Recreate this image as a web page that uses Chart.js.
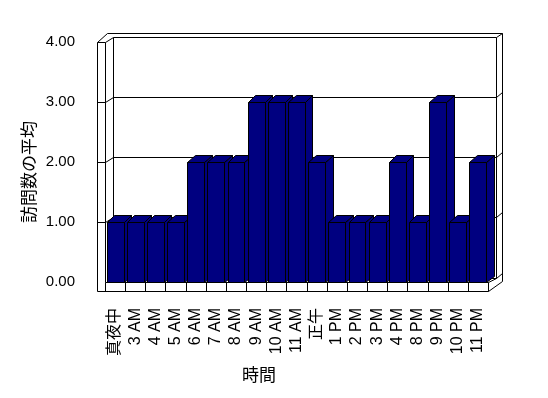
<!DOCTYPE html>
<html>
<head>
<meta charset="utf-8">
<script src="https://cdn.jsdelivr.net/npm/chart.js@4.4.0/dist/chart.umd.min.js"></script>
<style>
  html, body { margin: 0; padding: 0; background: #fff; }
  canvas { display: block; }
</style>
</head>
<body>
<canvas id="myChart" width="548" height="398"></canvas>
<script>
// ===== data =====
var hourLabels = ["真夜中", "3 AM", "4 AM", "5 AM", "6 AM", "7 AM", "8 AM", "9 AM", "10 AM", "11 AM",
  "正午", "1 PM", "2 PM", "3 PM", "4 PM", "8 PM", "9 PM", "10 PM", "11 PM"];
var avgVisits = [1, 1, 1, 1, 2, 2, 2, 3, 3, 3, 2, 1, 1, 1, 2, 1, 3, 1, 2];
var yTicks = [0, 1, 2, 3, 4];

var xTitle = "時間";
var yTitle = "訪問数の平均";

var barColor = "#000080";
var lineColor = "#000000";

// 3d look
var bdx = 7.5, bdy = -6.5;   // bar depth
var wdx = 7.5, wdy = -4.5;   // wall depth
var wallW = 8, floorH = 9;

function px(v) { return Math.round(v) + 0.5; }

function line(ctx, x1, y1, x2, y2) {
  ctx.beginPath();
  ctx.moveTo(px(x1), px(y1));
  ctx.lineTo(px(x2), px(y2));
  ctx.stroke();
}

function poly(ctx, pts, fill) {
  ctx.beginPath();
  ctx.moveTo(px(pts[0][0]), px(pts[0][1]));
  for (var i = 1; i < pts.length; i++) ctx.lineTo(px(pts[i][0]), px(pts[i][1]));
  ctx.closePath();
  if (fill) { ctx.fillStyle = fill; ctx.fill(); }
  ctx.stroke();
}

var box3d = {
  id: "box3d",
  beforeDatasetsDraw: function (chart) {
    var ctx = chart.ctx;
    var ys = chart.scales.y, xs = chart.scales.x;
    var L = chart.chartArea.left, R = chart.chartArea.right;
    var T = ys.getPixelForValue(yTicks[yTicks.length - 1]);
    var B = ys.getPixelForValue(0);
    ctx.save();
    ctx.strokeStyle = lineColor;
    ctx.lineWidth = 1;

    // outer outline
    poly(ctx, [[L - wallW, B + floorH], [L - wallW, T], [L - wallW + 10, T - 8.5],
      [R + wdx + 6, T - 8.5], [R + wdx + 6, B + wdy + 3], [R, B + floorH]], "#ffffff");
    // back wall
    poly(ctx, [[L + wdx, T + wdy], [R + wdx, T + wdy], [R + wdx, B + wdy], [L + wdx, B + wdy]]);
    // left wall
    line(ctx, L, T, L, B);
    line(ctx, L - wallW, T, L, T);
    line(ctx, L, T, L + wdx, T + wdy);
    line(ctx, R + wdx, T + wdy, R + wdx + 6, T - 8.5);
    line(ctx, R + wdx, B + wdy, R + wdx + 6, B + wdy - 5);

    // grid lines
    yTicks.forEach(function (v) {
      if (v === 0 || v === yTicks[yTicks.length - 1]) return;
      var y = ys.getPixelForValue(v);
      line(ctx, L - wallW, y, L, y);
      line(ctx, L, y, L + wdx, y + wdy);
      line(ctx, L + wdx, y + wdy, R + wdx, y + wdy);
      line(ctx, R + wdx, y + wdy, R + wdx + 6, y + wdy - 5);
    });

    // floor
    line(ctx, L, B, R, B);
    line(ctx, R, B, R + wdx, B + wdy);
    var step = (R - L) / hourLabels.length;
    for (var i = 0; i <= hourLabels.length; i++) {
      line(ctx, L + i * step, B, L + i * step, B + floorH);
    }

    // bars, left to right so nearer faces cover
    var meta = chart.getDatasetMeta(0);
    meta.data.forEach(function (bar) {
      var p = bar.getProps(["x", "y", "base", "width"], true);
      var x0 = p.x - p.width / 2, x1 = p.x + p.width / 2;
      poly(ctx, [[x1, p.y], [x1 + bdx, p.y + bdy], [x1 + bdx, p.base + bdy], [x1, p.base]], barColor);
      poly(ctx, [[x0, p.y], [x1, p.y], [x1 + bdx, p.y + bdy], [x0 + bdx, p.y + bdy]], barColor);
      poly(ctx, [[x0, p.y], [x1, p.y], [x1, p.base], [x0, p.base]], barColor);
    });

    // axis titles
    ctx.fillStyle = "#000";
    ctx.font = '17px "Noto Sans CJK JP"';
    ctx.textAlign = "center";
    ctx.textBaseline = "middle";
    ctx.fillText(xTitle, 259, 375);
    ctx.translate(28.5, 172);
    ctx.rotate(-Math.PI / 2);
    ctx.fillText(yTitle, 0, 0);
    ctx.restore();
    return false;
  }
};

var config = {
  type: "bar",
  data: {
    labels: hourLabels,
    datasets: [{
      label: "訪問数の平均",
      data: avgVisits,
      backgroundColor: barColor,
      borderColor: lineColor,
      borderWidth: 1,
      categoryPercentage: 1,
      barPercentage: 0.84
    }]
  },
  options: {
    responsive: false,
    animation: false,
    devicePixelRatio: 1,
    layout: { padding: { left: 0, top: 41.5, right: 60, bottom: 0 } },
    plugins: {
      legend: { display: false },
      tooltip: { enabled: false }
    },
    scales: {
      x: {
        grid: { display: false },
        border: { display: false },
        ticks: {
          autoSkip: false,
          maxRotation: 90,
          minRotation: 90,
          padding: 18,
          color: "#000",
          font: { family: '"Liberation Sans", "Noto Sans CJK JP"', size: 16 }
        },
        afterFit: function (scale) { scale.height = 116; }
      },
      y: {
        min: 0,
        max: 4,
        grid: { display: false },
        border: { display: false },
        ticks: {
          stepSize: 1,
          padding: 22,
          color: "#000",
          font: { family: '"Liberation Sans"', size: 15 },
          callback: function (value) { return value.toFixed(2); }
        },
        afterFit: function (scale) { scale.width = 105; }
      }
    }
  },
  plugins: [box3d]
};

var ctx = document.getElementById("myChart").getContext("2d");
new Chart(ctx, config);
</script>
</body>
</html>
